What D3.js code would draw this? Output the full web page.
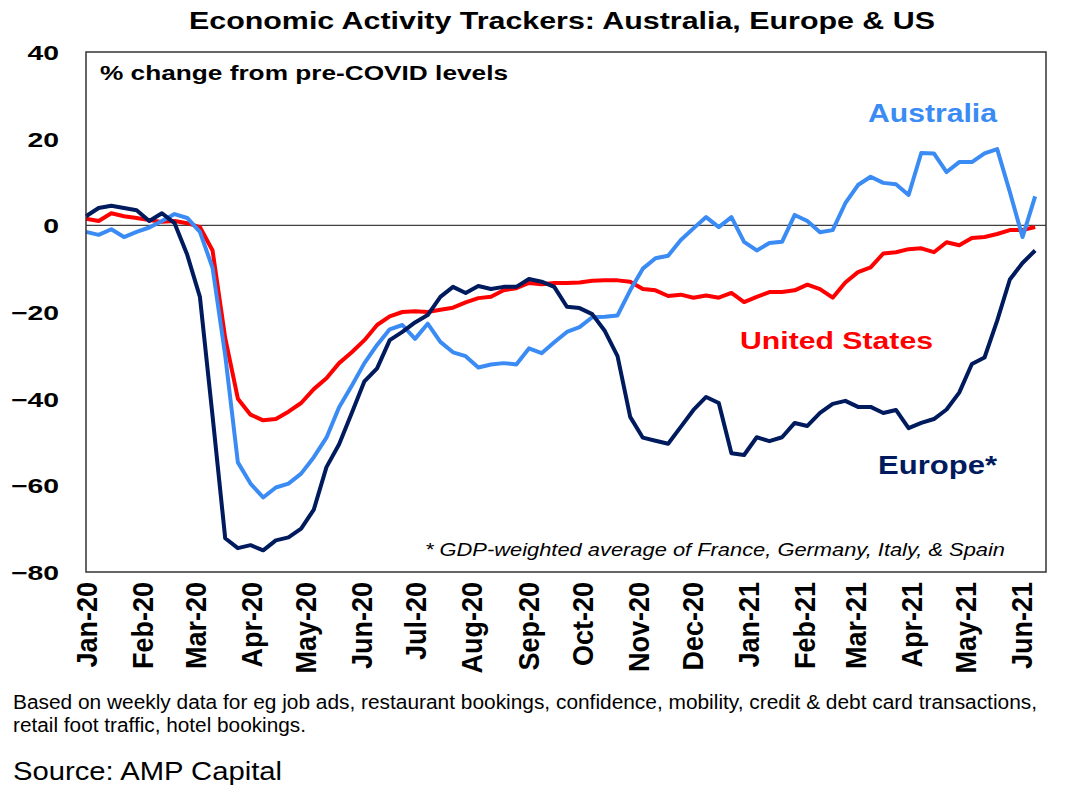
<!DOCTYPE html>
<html>
<head>
<meta charset="utf-8">
<script src="https://cdn.jsdelivr.net/npm/d3@7/dist/d3.min.js"></script>
<style>
  html, body { margin: 0; padding: 0; background: #fff; }
  svg { display: block; font-family: "Liberation Sans", Arial, sans-serif; }
</style>
</head>
<body>
<svg id="chart" width="1073" height="799"></svg>
<script>
// ---- Data (weekly, % change from pre-COVID levels) ----
const startDate = "2020-01-01";
const australia = [-1.5,-2.2,-0.9,-2.7,-1.5,-0.5,1.0,2.6,1.7,-1.5,
  -9.8,-30,-54.7,-59.6,-62.8,-60.5,-59.6,-57.3,-53.5,-49,
  -42,-37,-31.8,-27.6,-24,-23,-26.2,-22.7,-26.9,-29.3,
  -30.2,-32.8,-32.1,-31.8,-32.1,-28.4,-29.5,-27,-24.6,-23.5,
  -21.2,-21.1,-20.8,-15,-10,-7.6,-7,-3.4,-0.7,1.9,
  -0.4,1.9,-3.8,-5.8,-4.1,-3.8,2.4,1,-1.6,-1.1,
  5.1,9.3,11.2,9.8,9.5,7,16.7,16.6,12.3,14.6,
  14.6,16.6,17.6,7.7,-2.7,6.7];
const europe = [2.1,4.0,4.5,4.0,3.5,1.0,2.8,0.5,-6.8,-16.5,
  -44,-72.2,-74.5,-73.8,-75,-72.7,-72,-70,-65.6,-55.8,
  -50.5,-43.3,-36,-33,-26.5,-24.6,-22.4,-20.7,-16.5,-14.2,
  -15.6,-14,-14.7,-14.2,-14.2,-12.4,-13,-14.2,-18.8,-19.1,
  -20.5,-24.4,-30.2,-44.2,-49,-49.7,-50.4,-46.5,-42.6,-39.6,
  -41,-52.6,-53,-48.9,-49.8,-48.9,-45.6,-46.3,-43.3,-41.2,
  -40.5,-41.9,-41.9,-43.3,-42.6,-46.8,-45.6,-44.7,-42.5,-38.6,
  -32,-30.5,-22,-12.5,-8.7,-5.8];
const unitedStates = [1.5,1.0,2.8,2.1,1.7,1.2,0.8,1.0,0.5,-0.4,
  -5.8,-26,-40,-43.7,-45,-44.7,-43,-41,-37.8,-35.3,
  -31.8,-29.3,-26.5,-23,-21,-20,-19.8,-20,-19.5,-19,
  -17.8,-16.8,-16.5,-15,-14.5,-13.3,-13.6,-13.3,-13.3,-13.2,
  -12.8,-12.7,-12.7,-13,-14.7,-15,-16.3,-16,-16.7,-16.2,
  -16.7,-15.6,-17.7,-16.5,-15.4,-15.4,-15,-13.7,-14.7,-16.7,
  -13.2,-10.8,-9.7,-6.5,-6.2,-5.5,-5.3,-6.2,-3.9,-4.6,
  -2.9,-2.7,-2,-1.1,-1.1,-0.4];
const monthLabels = ["Jan-20","Feb-20","Mar-20","Apr-20","May-20","Jun-20","Jul-20","Aug-20","Sep-20",
  "Oct-20","Nov-20","Dec-20","Jan-21","Feb-21","Mar-21","Apr-21","May-21","Jun-21"];
const yTicks = [40, 20, 0, -20, -40, -60, -80];

const seriesNames = ["Australia", "Europe*", "United States"];
const seriesColors = ["#3B8BF4", "#001A5E", "#FF0000"];

// ---- Build ----
const parse = d3.timeParse("%Y-%m-%d");
const t0 = parse(startDate);
const dates = australia.map((_, i) => d3.timeDay.offset(t0, 7 * i));
const monthDates = monthLabels.map((_, i) => d3.timeMonth.offset(t0, i));

const svg = d3.select("#chart");
const L = 86, R = 1046, T = 52, B = 572;

const x = d3.scaleTime()
  .domain([t0, parse("2021-06-15")])
  .range([L, R]);
const y = d3.scaleLinear().domain([-80, 40]).range([B, T]);

function addText(opts) {
  const t = svg.append("text")
    .attr("x", opts.x).attr("y", opts.y)
    .attr("font-size", opts.size)
    .attr("fill", opts.fill || "#000")
    .text(opts.text);
  if (opts.bold) t.attr("font-weight", "bold");
  if (opts.italic) t.attr("font-style", "italic");
  if (opts.len) t.attr("textLength", opts.len).attr("lengthAdjust", "spacingAndGlyphs");
  return t;
}

// Title
addText({x: 189, y: 29, size: 23, bold: true, len: 746,
  text: "Economic Activity Trackers: Australia, Europe & US"});

// Y axis labels
const yAxis = d3.axisLeft(y).tickValues(yTicks).tickSize(0).tickPadding(0).tickFormat(d3.format("d"));
const yg = svg.append("g").attr("transform", `translate(${L - 27},0)`).call(yAxis);
yg.select(".domain").remove();
yg.selectAll("text")
  .attr("font-size", 21).attr("font-weight", "bold")
  .attr("font-family", "Liberation Sans, Arial, sans-serif")
  .attr("fill", "#000").attr("x", 0).attr("dy", "0.36em")
  .attr("transform", "scale(1.35,1)");

// X axis labels (rotated)
const xAxis = d3.axisBottom(x).tickValues(monthDates).tickSize(0).tickPadding(0)
  .tickFormat((d, i) => monthLabels[i]);
const xg = svg.append("g").attr("transform", `translate(0,${B})`).call(xAxis);
xg.select(".domain").remove();
xg.selectAll("text")
  .attr("font-size", 27).attr("font-weight", "bold")
  .attr("font-family", "Liberation Sans, Arial, sans-serif")
  .attr("fill", "#000")
  .attr("text-anchor", "end")
  .attr("transform", "rotate(-90) scale(1,1.12)")
  .attr("x", -10).attr("y", 0).attr("dy", "0.36em");

// Zero line
svg.append("line")
  .attr("x1", L).attr("x2", R)
  .attr("y1", y(0)).attr("y2", y(0))
  .attr("stroke", "#404040").attr("stroke-width", 1.3);

// Lines
const line = d3.line().x((d, i) => x(dates[i])).y(d => y(d));
const seriesData = [unitedStates, australia, europe];
const drawColors = [seriesColors[2], seriesColors[0], seriesColors[1]];
seriesData.forEach((s, k) => {
  svg.append("path")
    .datum(s)
    .attr("d", line)
    .attr("fill", "none")
    .attr("stroke", drawColors[k])
    .attr("stroke-width", 4)
    .attr("stroke-linejoin", "round");
});

// Frame
svg.append("rect")
  .attr("x", L).attr("y", T).attr("width", R - L).attr("height", B - T)
  .attr("fill", "none").attr("stroke", "#333").attr("stroke-width", 1.5);

// In-plot labels
addText({x: 100, y: 80, size: 21, bold: true, len: 408, text: "% change from pre-COVID levels"});

const labelPos = [[868, 122, 129, 25.5], [878, 474, 119, 25], [740, 349, 193, 24.5]];
seriesNames.forEach((n, k) => {
  addText({x: labelPos[k][0], y: labelPos[k][1], size: labelPos[k][3], bold: true,
    len: labelPos[k][2], fill: seriesColors[k], text: n});
});

addText({x: 425, y: 556, size: 18, italic: true, len: 580,
  text: "* GDP-weighted average of France, Germany, Italy, & Spain"});

// Footnotes
addText({x: 13, y: 709, size: 20, len: 1024,
  text: "Based on weekly data for eg job ads, restaurant bookings, confidence, mobility, credit & debt card transactions,"});
addText({x: 13, y: 732, size: 20, len: 293,
  text: "retail foot traffic, hotel bookings."});
addText({x: 13, y: 780, size: 26.5, len: 269, text: "Source: AMP Capital"});
</script>
</body>
</html>
